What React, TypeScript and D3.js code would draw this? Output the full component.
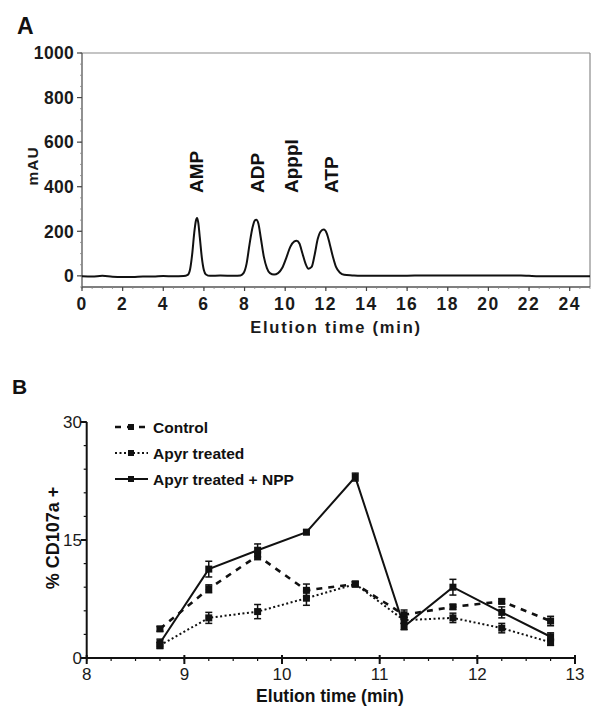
import React from "react";
import * as d3 from "d3";

// ---------- Panel A data (chromatogram trace) ----------
const traceTime = [0, 0.5, 1, 1.5, 2, 2.5, 3, 3.5, 4, 4.5, 5, 5.2, 5.32, 5.42, 5.52, 5.6, 5.66, 5.72, 5.8, 5.9, 6.0, 6.1, 6.3, 6.8, 7.5, 7.8, 7.95, 8.1, 8.25, 8.4, 8.5, 8.58, 8.68, 8.8, 8.95, 9.1, 9.25, 9.45, 9.65, 9.85, 10.05, 10.25, 10.45, 10.56, 10.7, 10.85, 11.0, 11.15, 11.3, 11.45, 11.6, 11.75, 11.9, 12.05, 12.2, 12.35, 12.5, 12.7, 12.9, 13.3, 13.7, 14.5, 16, 17, 20, 21.6, 22, 22.5, 25];
const traceMAU = [-2, -3, 0, -4, -5, -5, -3, -3, -1, -2, -1, 4, 30, 95, 190, 245, 260, 240, 170, 80, 25, 6, 0, 2, 0, 2, 12, 55, 145, 220, 248, 252, 235, 170, 85, 35, 12, 6, 12, 35, 80, 130, 155, 158, 145, 100, 55, 32, 40, 95, 165, 200, 208, 190, 140, 85, 40, 14, 5, 2, 0, 0, 1, 2, 2, 2, 0, -2, -2];
const peakNames = ["AMP", "ADP", "Apppl", "ATP"];
const peakLabelTimes = [5.95, 8.96, 10.63, 12.6];
const aYTicks = [0, 200, 400, 600, 800, 1000];
const aXTicks = [0, 2, 4, 6, 8, 10, 12, 14, 16, 18, 20, 22, 24];

// ---------- Panel B data ----------
const bTimes = [8.75, 9.25, 9.75, 10.25, 10.75, 11.25, 11.75, 12.25, 12.75];
const controlVals = [3.7, 8.8, 13.0, 8.6, 9.4, 5.5, 6.5, 7.2, 4.7];
const controlErr = [0.3, 0.5, 0.5, 0.8, 0.3, 0.6, 0.3, 0.3, 0.6];
const apyrVals = [1.6, 5.1, 5.9, 7.6, 9.4, 4.8, 5.1, 3.8, 2.0];
const apyrErr = [0.4, 0.7, 0.9, 0.9, 0.3, 0.4, 0.6, 0.6, 0.4];
const nppVals = [1.9, 11.3, 13.7, 16.0, 23.0, 4.0, 9.0, 5.8, 2.7];
const nppErr = [0.5, 1.0, 0.8, 0.3, 0.5, 0.4, 1.0, 0.7, 0.5];
const seriesNames = ["Control", "Apyr treated", "Apyr treated + NPP"];
const bYTicks = [0, 15, 30];
const bXTicks = [8, 9, 10, 11, 12, 13];

const FONT = "'Liberation Sans', Arial, sans-serif";

export default function App() {
  // Panel A scales
  const ax = d3.scaleLinear().domain([0, 25]).range([82, 590]);
  const ay = d3.scaleLinear().domain([-50, 1000]).range([287, 53]);
  const trace = traceTime.map((t, i) => [t, traceMAU[i]] as [number, number]);
  const traceLine = d3
    .line<[number, number]>()
    .x((d) => ax(d[0]))
    .y((d) => ay(d[1]))
    .curve(d3.curveMonotoneX);
  const aMinorY = d3.range(-50, 1001, 50);
  const aMinorX = d3.range(0, 25.01, 0.5);

  // Panel B scales
  const bx = d3.scaleLinear().domain([8, 13]).range([86.7, 575]);
  const by = d3.scaleLinear().domain([0, 30]).range([658, 422]);
  const bMinorX = d3.range(8, 13.001, 0.25);
  const bMinorY = d3.range(0, 30.001, 3);

  const series = [
    { name: seriesNames[0], vals: controlVals, err: controlErr, dash: "6,6", width: 2.6 },
    { name: seriesNames[1], vals: apyrVals, err: apyrErr, dash: "2,2.5", width: 2 },
    { name: seriesNames[2], vals: nppVals, err: nppErr, dash: "", width: 2 },
  ];
  const bLine = d3
    .line<number>()
    .x((_, i) => bx(bTimes[i]))
    .y((d) => by(d));

  return (
    <svg
      width={610}
      height={717}
      style={{ position: "absolute", left: 0, top: 0, background: "#fff" }}
      fontFamily={FONT}
    >
      <rect x={0} y={0} width={610} height={717} fill="#fff" />
      {/* ================= Panel A ================= */}
      <text x={17} y={34} fontSize={23} fontWeight="bold" fill="#111">A</text>
      {/* box */}
      <line x1={ax(0)} x2={ax(25)} y1={ay(1000)} y2={ay(1000)} stroke="#8a8a8a" strokeWidth={1.2} />
      <line x1={ax(25)} x2={ax(25)} y1={ay(1000)} y2={ay(-50)} stroke="#8a8a8a" strokeWidth={1.2} />
      <line x1={ax(0)} x2={ax(0)} y1={ay(1000)} y2={ay(-50)} stroke="#555" strokeWidth={1.3} />
      <line x1={ax(0)} x2={ax(25)} y1={ay(-50)} y2={ay(-50)} stroke="#555" strokeWidth={1.3} />
      {aMinorY.map((v) => (
        <line key={"amy" + v} x1={ax(0) - 2} x2={ax(0)} y1={ay(v)} y2={ay(v)} stroke="#888" strokeWidth={0.8} />
      ))}
      {aYTicks.map((v) => (
        <g key={"ay" + v}>
          <line x1={ax(0) - 5} x2={ax(0)} y1={ay(v)} y2={ay(v)} stroke="#444" strokeWidth={1.2} />
          <text x={74} y={ay(v)} dy="0.36em" textAnchor="end" fontSize={17.5} fontWeight="bold" fill="#1a1a1a" letterSpacing={0.3}>
            {v}
          </text>
        </g>
      ))}
      {aMinorX.map((v) => (
        <line key={"amx" + v} x1={ax(v)} x2={ax(v)} y1={ay(-50)} y2={ay(-50) + 2} stroke="#888" strokeWidth={0.8} />
      ))}
      {aXTicks.map((v) => (
        <g key={"ax" + v}>
          <line x1={ax(v)} x2={ax(v)} y1={ay(-50)} y2={ay(-50) + 4} stroke="#444" strokeWidth={1.2} />
          <text x={ax(v)} y={310} textAnchor="middle" fontSize={17.5} fontWeight="bold" fill="#1a1a1a" letterSpacing={1.5}>
            {v}
          </text>
        </g>
      ))}
      <text x={336} y={333} textAnchor="middle" fontSize={16.5} fontWeight="bold" fill="#1a1a1a" letterSpacing={1.8}>
        Elution time (min)
      </text>
      <text transform={`translate(38,166) rotate(-90)`} textAnchor="middle" fontSize={15.5} fontWeight="bold" fill="#1a1a1a" letterSpacing={1}>
        mAU
      </text>
      <path d={traceLine(trace) || ""} fill="none" stroke="#111" strokeWidth={2} />
      {peakNames.map((n, i) => (
        <text
          key={n}
          transform={`translate(${ax(peakLabelTimes[i])},193) rotate(-90)`}
          fontSize={19}
          fontWeight="bold"
          fill="#111"
        >
          {n}
        </text>
      ))}

      {/* ================= Panel B ================= */}
      <text x={12} y={394} fontSize={21} fontWeight="bold" fill="#111">B</text>
      <line x1={bx(8)} x2={bx(8)} y1={by(30)} y2={by(0)} stroke="#111" strokeWidth={2} />
      <line x1={bx(8)} x2={bx(13)} y1={by(0)} y2={by(0)} stroke="#111" strokeWidth={2} />
      {bMinorY.map((v) => (
        <line key={"bmy" + v} x1={bx(8) - 3} x2={bx(8)} y1={by(v)} y2={by(v)} stroke="#111" strokeWidth={1.2} />
      ))}
      {bYTicks.map((v) => (
        <g key={"by" + v}>
          <line x1={bx(8) - 6} x2={bx(8)} y1={by(v)} y2={by(v)} stroke="#111" strokeWidth={2} />
          <text x={82} y={by(v)} dy="0.36em" textAnchor="end" fontSize={17} fill="#1a1a1a">
            {v}
          </text>
        </g>
      ))}
      {bMinorX.map((v) => (
        <line key={"bmx" + v} x1={bx(v)} x2={bx(v)} y1={by(0)} y2={by(0) + 3} stroke="#111" strokeWidth={1.2} />
      ))}
      {bXTicks.map((v) => (
        <g key={"bx" + v}>
          <line x1={bx(v)} x2={bx(v)} y1={by(0) - 3} y2={by(0) + 6} stroke="#111" strokeWidth={2} />
          <text x={bx(v)} y={680} textAnchor="middle" fontSize={17} fill="#1a1a1a">
            {v}
          </text>
        </g>
      ))}
      <text x={330} y={702} textAnchor="middle" fontSize={17.5} fontWeight="bold" fill="#111">
        Elution time (min)
      </text>
      <text transform={`translate(59,538) rotate(-90)`} textAnchor="middle" fontSize={18} fontWeight="bold" fill="#111">
        % CD107a +
      </text>

      {series.map((s, si) => (
        <g key={s.name}>
          <path
            d={bLine(s.vals) || ""}
            fill="none"
            stroke="#111"
            strokeWidth={s.width}
            strokeDasharray={s.dash || undefined}
          />
          {s.vals.map((v, i) => {
            const x = bx(bTimes[i]);
            const y1 = by(v + s.err[i]);
            const y2 = by(v - s.err[i]);
            return (
              <g key={i}>
                <line x1={x} x2={x} y1={y1} y2={y2} stroke="#111" strokeWidth={1.5} />
                <line x1={x - 3.5} x2={x + 3.5} y1={y1} y2={y1} stroke="#111" strokeWidth={1.5} />
                <line x1={x - 3.5} x2={x + 3.5} y1={y2} y2={y2} stroke="#111" strokeWidth={1.5} />
                <rect x={x - 3.5} y={by(v) - 3.5} width={7} height={7} fill="#111" />
              </g>
            );
          })}
          {/* legend */}
          <line
            x1={115}
            x2={148}
            y1={427 + si * 26}
            y2={427 + si * 26}
            stroke="#111"
            strokeWidth={s.width}
            strokeDasharray={s.dash || undefined}
          />
          <rect x={128} y={427 + si * 26 - 3} width={6} height={6} fill="#111" />
          <text x={153} y={427 + si * 26} dy="0.36em" fontSize={15.5} fontWeight="bold" fill="#111">
            {s.name}
          </text>
        </g>
      ))}
    </svg>
  );
}
